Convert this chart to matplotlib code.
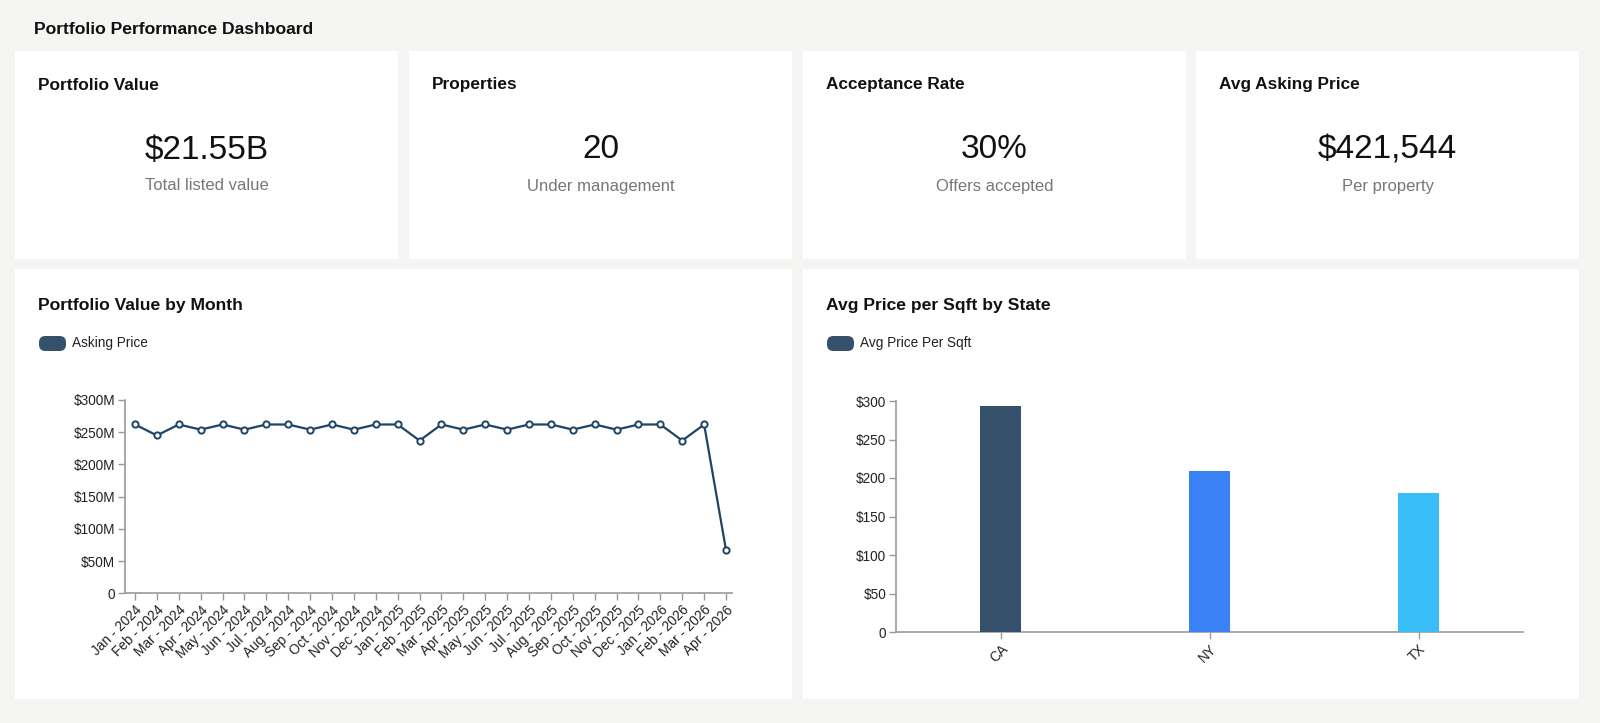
import matplotlib
matplotlib.use("Agg")
import matplotlib.pyplot as plt
from matplotlib.patches import Rectangle, FancyBboxPatch
from matplotlib.ticker import FuncFormatter

plt.rcParams['font.family'] = ['Liberation Sans', 'DejaVu Sans']

# ---------------- data ----------------
dashboard_title = "Portfolio Performance Dashboard"
kpi_titles = ["Portfolio Value", "Properties", "Acceptance Rate", "Avg Asking Price"]
kpi_values = ["$21.55B", "20", "30%", "$421,544"]
kpi_subtitles = ["Total listed value", "Under management", "Offers accepted", "Per property"]

months = ["Jan - 2024", "Feb - 2024", "Mar - 2024", "Apr - 2024", "May - 2024", "Jun - 2024",
          "Jul - 2024", "Aug - 2024", "Sep - 2024", "Oct - 2024", "Nov - 2024", "Dec - 2024",
          "Jan - 2025", "Feb - 2025", "Mar - 2025", "Apr - 2025", "May - 2025", "Jun - 2025",
          "Jul - 2025", "Aug - 2025", "Sep - 2025", "Oct - 2025", "Nov - 2025", "Dec - 2025",
          "Jan - 2026", "Feb - 2026", "Mar - 2026", "Apr - 2026"]
asking_price_m = [262, 245, 262, 254, 262, 254, 262, 262, 254, 262, 254, 262,
                  262, 237, 262, 254, 262, 254, 262, 262, 254, 262, 254, 262,
                  262, 237, 262, 67]
line_yticks = [0, 50, 100, 150, 200, 250, 300]

states = ["CA", "NY", "TX"]
price_per_sqft = [293, 209, 180]
bar_yticks = [0, 50, 100, 150, 200, 250, 300]

# ---------------- styling ----------------
W, H = 1600, 723
BG = "#f5f5f3"
NAVY = "#1e4466"
SLATE = "#34506b"
BAR_COLORS = ["#34506b", "#3b82f6", "#38bdf8"]
AXIS_GRAY = "#9a9a9a"

fig = plt.figure(figsize=(W / 100, H / 100), dpi=100, facecolor=BG)


def fx(x):
    return x / W


def fy(y):
    return 1 - y / H


def card(x0, y0, x1, y1):
    fig.patches.append(Rectangle((fx(x0), fy(y1)), fx(x1) - fx(x0), fy(y0) - fy(y1),
                                 transform=fig.transFigure, facecolor="white",
                                 edgecolor="none", zorder=-5))


fig.text(fx(34), fy(29), dashboard_title, fontsize=12.6, fontweight="bold",
         va="center", ha="left", color="#111111")

# KPI cards
kpi_x = [(15, 398), (409, 792), (803, 1186), (1196, 1579)]
for (x0, x1), t, v, s in zip(kpi_x, kpi_titles, kpi_values, kpi_subtitles):
    card(x0, 51, x1, 259)
    fig.text(fx(x0 + 23), fy(85), t, fontsize=12.4, fontweight="bold",
             va="center", ha="left", color="#111111")
    cx = (x0 + x1) / 2
    fig.text(fx(cx), fy(150), v, fontsize=24, va="center", ha="center", color="#111111")
    fig.text(fx(cx), fy(186), s, fontsize=12, va="center", ha="center", color="#777777")

# chart cards
card(15, 269, 792, 699)
card(803, 269, 1579, 699)


def chart_header(x0, title, legend_label):
    fig.text(fx(x0 + 23), fy(305), title, fontsize=12.6, fontweight="bold",
             va="center", ha="left", color="#111111")
    sw = FancyBboxPatch((fx(x0 + 24), fy(351)), fx(27), (fy(336) - fy(351)),
                        boxstyle="round,pad=0,rounding_size=0.004",
                        transform=fig.transFigure, facecolor=SLATE,
                        edgecolor="none", mutation_aspect=W / H)
    fig.patches.append(sw)
    fig.text(fx(x0 + 57), fy(343.5), legend_label, fontsize=9.8,
             va="center", ha="left", color="#222222")


chart_header(15, "Portfolio Value by Month", "Asking Price")
chart_header(803, "Avg Price per Sqft by State", "Avg Price Per Sqft")


def style_axes(ax):
    ax.set_facecolor("none")
    ax.set_zorder(5)
    for sp in ["top", "right"]:
        ax.spines[sp].set_visible(False)
    for sp in ["left", "bottom"]:
        ax.spines[sp].set_color(AXIS_GRAY)
        ax.spines[sp].set_linewidth(1.2)
    ax.tick_params(axis="both", colors=AXIS_GRAY, length=5, width=1,
                   labelcolor="#222222", labelsize=9.8, pad=2)


# line chart
ax1 = fig.add_axes([fx(125), fy(593.3), fx(731.5) - fx(125), fy(400) - fy(593.3)])
style_axes(ax1)
xs = list(range(len(months)))
ax1.plot(xs, asking_price_m, color=NAVY, linewidth=1.6, marker="o", markersize=4.5,
         markerfacecolor="white", markeredgecolor=NAVY, markeredgewidth=1.4, zorder=3,
         clip_on=False)
ax1.set_xlim(-0.457, len(months) - 1 + 0.25)
ax1.set_ylim(0, 300)
ax1.set_yticks(line_yticks)
ax1.yaxis.set_major_formatter(FuncFormatter(lambda v, p: "0" if v == 0 else f"${int(v)}M"))
ax1.set_xticks(xs)
ax1.set_xticklabels(months, rotation=45, ha="right", rotation_mode="anchor")

# bar chart
ax2 = fig.add_axes([fx(896), fy(632), fx(1523) - fx(896), fy(401) - fy(632)])
style_axes(ax2)
bx = list(range(len(states)))
ax2.bar(bx, price_per_sqft, width=0.196, color=BAR_COLORS, zorder=3)
ax2.set_xlim(-0.5, len(states) - 0.5)
ax2.set_ylim(0, 300)
ax2.set_yticks(bar_yticks)
ax2.yaxis.set_major_formatter(FuncFormatter(lambda v, p: "0" if v == 0 else f"${int(v)}"))
ax2.set_xticks(bx)
ax2.set_xticklabels(states, rotation=45, ha="right", rotation_mode="anchor")

fig.savefig("out.png", dpi=100, facecolor=BG)
